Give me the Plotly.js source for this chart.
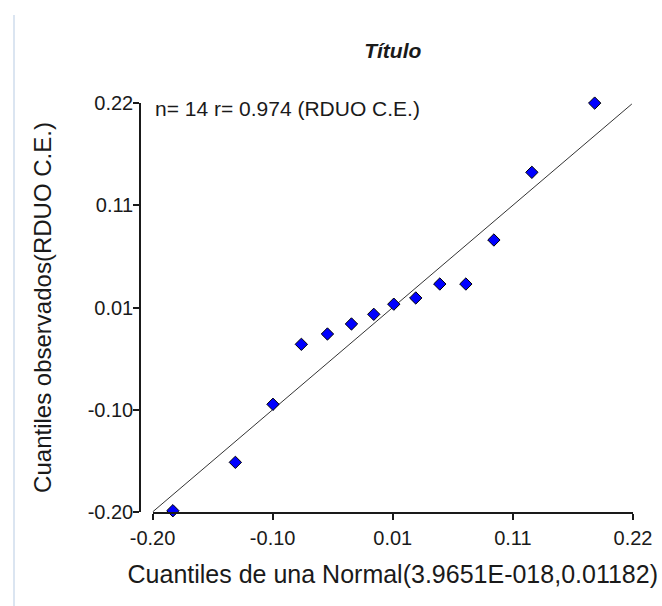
<!DOCTYPE html>
<html>
<head>
<meta charset="utf-8">
<script src="https://cdn.plot.ly/plotly-3.0.1.min.js"></script>
<style>html,body{margin:0;padding:0;background:#fff;}#chart{width:662px;height:606px;}</style>
</head>
<body>
<div id="chart"></div>
<script>
// Theoretical normal quantiles (x) and observed quantiles (y)
const normalQuantiles = [-0.1822, -0.1276, -0.0947, -0.0699, -0.0471, -0.0261, -0.0066,
                         0.0109, 0.0301, 0.0511, 0.0739, 0.0984, 0.1316, 0.1865];
const observedQuantiles = [-0.1987, -0.1490, -0.0894, -0.0278, -0.0172, -0.0069, 0.0030,
                           0.0134, 0.0198, 0.0341, 0.0341, 0.0793, 0.1488, 0.2199];
// Reference line (y = x)
const refLineX = [-0.20, 0.219];
const refLineY = [-0.20, 0.219];
// Ticks
const tickValues = [-0.20, -0.095, 0.01, 0.115, 0.22];
const tickLabels = ['-0.20', '-0.10', '0.01', '0.11', '0.22'];
const axisRange = [-0.20, 0.22];

const chartTitle = 'Título';
const xTitle = 'Cuantiles de una Normal(3.9651E-018,0.01182)';
const yTitle = 'Cuantiles observados(RDUO C.E.)';
const statsText = 'n= 14 r= 0.974 (RDUO C.E.)';

const FONT = 'Liberation Sans, Arial, sans-serif';
const INK = '#1a1a1a';

const traces = [
  {
    x: refLineX, y: refLineY, type: 'scatter', mode: 'lines',
    line: {color: '#333333', width: 1}, hoverinfo: 'skip', cliponaxis: false
  },
  {
    x: normalQuantiles, y: observedQuantiles, type: 'scatter', mode: 'markers',
    marker: {symbol: 'diamond', size: 9.5, color: '#0000ff', line: {color: '#000000', width: 1}},
    cliponaxis: false
  }
];

const layout = {
  width: 662, height: 606,
  margin: {l: 140, r: 29, t: 103, b: 94, pad: 0},
  paper_bgcolor: '#ffffff', plot_bgcolor: '#ffffff',
  showlegend: false,
  font: {family: FONT, color: INK},
  title: {
    text: '<b><i>' + chartTitle + '</i></b>',
    font: {family: FONT, size: 21, color: INK},
    xref: 'paper', x: 0.5127, xanchor: 'center',
    yref: 'container', y: 0.917, yanchor: 'middle'
  },
  xaxis: {
    domain: [0.0254, 1], range: axisRange, anchor: 'y',
    tickmode: 'array', tickvals: tickValues, ticktext: tickLabels,
    ticks: 'outside', ticklen: 6, tickwidth: 1.5, tickcolor: INK,
    showline: true, linewidth: 1.5, linecolor: INK,
    showgrid: false, zeroline: false,
    tickfont: {family: FONT, size: 20, color: INK},
    ticklabelstandoff: 1,
    title: {text: xTitle, font: {family: FONT, size: 25, color: INK}, standoff: 18}
  },
  yaxis: {
    range: axisRange, anchor: 'free', position: 0,
    tickmode: 'array', tickvals: tickValues, ticktext: tickLabels,
    ticks: 'outside', ticklen: 6, tickwidth: 1.5, tickcolor: INK,
    showline: true, linewidth: 1.5, linecolor: INK,
    showgrid: false, zeroline: false,
    tickfont: {family: FONT, size: 20, color: INK},
    ticklabelstandoff: -4,
    title: {text: yTitle, font: {family: FONT, size: 24, color: INK}, standoff: 28}
  },
  annotations: [{
    text: statsText, xref: 'x', yref: 'y', x: -0.20, y: 0.22,
    xanchor: 'left', yanchor: 'middle', yshift: -5, showarrow: false,
    font: {family: FONT, size: 21, color: INK}
  }],
  shapes: [{
    type: 'line', xref: 'paper', yref: 'paper',
    x0: -0.2556, x1: -0.2556, y0: 1.215, y1: -0.25,
    line: {color: '#dbe5f1', width: 2}
  }]
};

Plotly.newPlot('chart', traces, layout, {displayModeBar: false, responsive: false});
</script>
</body>
</html>
